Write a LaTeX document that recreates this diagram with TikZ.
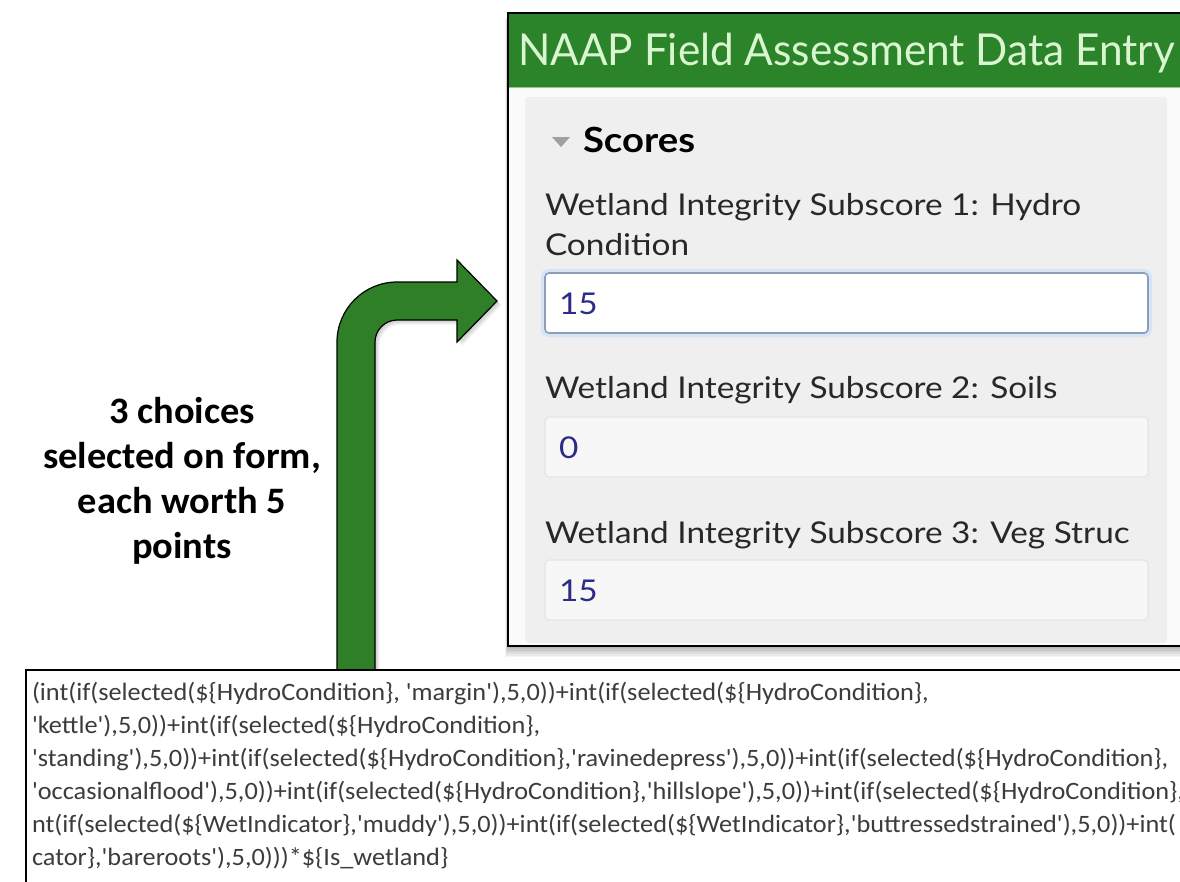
\documentclass[tikz,border=0pt]{standalone}
\usepackage{fontspec}
\usepackage{graphicx}
\defaultfontfeatures{}
\newfontfamily\lato{Lato}
\newfontfamily\carlito{Carlito}
\definecolor{hdrgreen}{RGB}{44,132,42}
\definecolor{arrgreen}{RGB}{46,127,40}
\definecolor{hdrtext}{RGB}{218,246,208}
\definecolor{panelgray}{RGB}{239,239,239}
\definecolor{formbg}{RGB}{250,250,250}
\definecolor{labeltext}{RGB}{40,40,40}
\definecolor{valtext}{RGB}{44,44,135}
\definecolor{boxoneborder}{RGB}{140,158,186}
\definecolor{boxoneglow}{RGB}{215,228,245}
\definecolor{boxfill}{RGB}{247,247,247}
\definecolor{boxborder}{RGB}{229,229,229}
\definecolor{codetext}{RGB}{60,60,60}
\newcommand\hdrfont{\lato\fontsize{33}{40}\selectfont}
\newcommand\scorefont{\lato\bfseries\fontsize{26}{31}\selectfont}
\newcommand\lblfont{\lato\fontsize{22.5}{27}\selectfont}
\newcommand\codefont{\carlito\fontsize{18.75}{26}\selectfont}
\newcommand\notefont{\carlito\bfseries\fontsize{28}{34}\selectfont}
\newlength\mylen
\newcommand\sxbox[2]{\scalebox{#1}[1]{#2}}
\newcommand\arrowpath{(337,700) -- (337,342) .. controls (337,309) and (364,282) .. (397,282) -- (457,282) -- (457,260) -- (497,301) -- (457,342) -- (457,320) -- (397,320) .. controls (385,320) and (375,330) .. (375,342) -- (375,700) -- cycle}
\begin{document}
\settowidth\mylen{\hdrfont NAAP Field Assessment Data Entry}
\pgfmathsetmacro\hdrsx{657*0.75/\mylen}
\settowidth\mylen{\scorefont Scores}
\pgfmathsetmacro\scoresx{112*0.75/\mylen}
\settowidth\mylen{\lblfont Wetland Integrity Subscore 1: Hydro}
\pgfmathsetmacro\lblsx{536*0.75/\mylen}
\settowidth\mylen{\codefont (int(if(selected(\$\{HydroCondition\}, 'margin'),5,0))+int(if(selected(\$\{HydroCondition\},}
\pgfmathsetmacro\codesx{897*0.75/\mylen}
\settowidth\mylen{\notefont selected on form,}
\pgfmathsetmacro\notesx{278*0.75/\mylen}
\begin{tikzpicture}[x=0.75pt,y=-0.75pt,
  every node/.style={inner sep=0pt, outer sep=0pt},
  hdr/.style={anchor=base west, text=hdrtext, font=\hdrfont},
  scorelbl/.style={anchor=base west, text=black, font=\scorefont},
  lbl/.style={anchor=base west, text=labeltext, font=\lblfont},
  val/.style={anchor=base west, text=valtext, font=\lblfont},
  codeline/.style={anchor=base west, text=codetext, font=\codefont},
  note/.style={anchor=base, text=black, font=\notefont},
  boxone/.style={draw=boxoneborder, fill=white, line width=1.2pt, rounded corners=3pt},
  boxother/.style={draw=boxborder, fill=boxfill, line width=1pt, rounded corners=3pt},
  softshadow/.style={fill=black, opacity=0.045}
]
\useasboundingbox (0,0) rectangle (1180,881);
\clip (0,0) rectangle (1180,881);
\fill[white] (0,0) rectangle (1180,881);

% ---- form window with soft shadow
\foreach \s in {1,...,7} {
  \fill[softshadow] (508-\s*0.4,13+\s) rectangle (1200,646+\s*1.6);
}
\path[fill=formbg, draw=black, line width=1.5pt] (508,13) rectangle (1200,646);
\fill[hdrgreen] (509,14) rectangle (1200,87);
\draw[hdrtext!60!hdrgreen, line width=0.6pt] (509,87.5) -- (1200,87.5);
\fill[panelgray, rounded corners=3pt] (525,97) rectangle (1167,643);

\node[hdr] (title) at (518,65) {\sxbox{\hdrsx}{NAAP Field Assessment Data Entry}};

\fill[gray!75] (552,137) -- (570,137) -- (561,147) -- cycle;
\node[scorelbl] (scores) at (583,152) {\sxbox{\scoresx}{Scores}};

\node[lbl] (lblone) at (545,215) {\sxbox{\lblsx}{Wetland Integrity Subscore 1: Hydro}};
\node[lbl] (lbloneb) at (545,255) {\sxbox{\lblsx}{Condition}};
\draw[boxoneglow, line width=3pt, rounded corners=4pt] (543,271) rectangle (1150,335);
\path[boxone] (545,273) rectangle (1148,333);
\coordinate (boxone) at (545,303);
\node[val] (valone) at (559,314) {\sxbox{\lblsx}{15}};

\node[lbl] (lbltwo) at (545,398) {\sxbox{\lblsx}{Wetland Integrity Subscore 2: Soils}};
\path[boxother] (545,417) rectangle (1148,477);
\node[val] (valtwo) at (559,458) {\sxbox{\lblsx}{0}};

\node[lbl] (lblthree) at (545,543) {\sxbox{\lblsx}{Wetland Integrity Subscore 3: Veg Struc}};
\path[boxother] (545,560) rectangle (1148,620);
\node[val] (valthree) at (559,601) {\sxbox{\lblsx}{15}};

% ---- bent green arrow with soft shadow
\foreach \s in {1,...,5} {
  \fill[softshadow, shift={(\s*0.9,\s*0.9)}] \arrowpath;
}
\path[fill=arrgreen, draw=black, line width=0.9pt, line join=miter] \arrowpath;

% ---- note text
\node[note] (noteone) at (182,423) {\sxbox{\notesx}{3 choices}};
\node[note] (notetwo) at (182,468) {\sxbox{\notesx}{selected on form,}};
\node[note] (notethree) at (182,513) {\sxbox{\notesx}{each worth 5}};
\node[note] (notefour) at (182,558) {\sxbox{\notesx}{points}};

% ---- formula box
\path[fill=white, draw=black, line width=1.5pt] (26,670) rectangle (1200,900);
\node[codeline] (codeone) at (32,700) {\sxbox{\codesx}{(int(if(selected(\$\{HydroCondition\}, 'margin'),5,0))+int(if(selected(\$\{HydroCondition\},}};
\node[codeline] (codetwo) at (32,733) {\sxbox{\codesx}{'kettle'),5,0))+int(if(selected(\$\{HydroCondition\},}};
\node[codeline] (codethree) at (32,766) {\sxbox{\codesx}{'standing'),5,0))+int(if(selected(\$\{HydroCondition\},'ravinedepress'),5,0))+int(if(selected(\$\{HydroCondition\},}};
\node[codeline] (codefour) at (32,799) {\sxbox{\codesx}{'occasionalflood'),5,0))+int(if(selected(\$\{HydroCondition\},'hillslope'),5,0))+int(if(selected(\$\{HydroCondition\},}};
\node[codeline] (codefive) at (32,832) {\sxbox{\codesx}{nt(if(selected(\$\{WetIndicator\},'muddy'),5,0))+int(if(selected(\$\{WetIndicator\},'buttressedstrained'),5,0))+int(}};
\node[codeline] (codesix) at (32,865) {\sxbox{\codesx}{cator\},'bareroots'),5,0)))*\$\{Is\_wetland\}}};
\end{tikzpicture}
\end{document}
